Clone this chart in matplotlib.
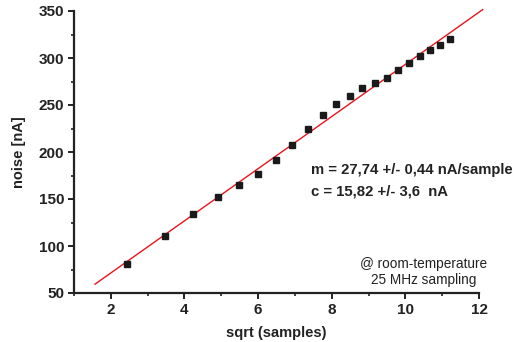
import numpy as np
import matplotlib
matplotlib.use("Agg")
import matplotlib.pyplot as plt
from matplotlib.ticker import MultipleLocator

# measured noise vs sqrt of number of samples
sqrt_samples = [2.45, 3.46, 4.24, 4.90, 5.48, 6.00, 6.48, 6.93, 7.35, 7.75, 8.12,
                8.49, 8.83, 9.17, 9.49, 9.80, 10.10, 10.39, 10.68, 10.95, 11.22]
noise = [81, 111, 134, 152, 165, 177, 191, 207, 224, 239, 251,
         260, 268, 273, 279, 287, 295, 302, 309, 314, 320]

# linear fit result
slope = 27.74
offset = 15.82
fit_range = [1.57, 12.1]

plt.rcParams['font.family'] = ['Liberation Sans', 'DejaVu Sans']

fig = plt.figure(figsize=(5.17, 3.42), dpi=100)
ax = fig.add_axes([74 / 517, 49 / 342, 405 / 517, 282 / 342])

fit_x = np.array(fit_range)
ax.plot(fit_x, slope * fit_x + offset, color='#e8141c', lw=1.0, clip_on=False, zorder=2)
ax.plot(sqrt_samples, noise, 's', color='#1a1a1a', ms=5, zorder=3)

ax.set_xlim(1, 12)
ax.set_ylim(50, 350)
ax.xaxis.set_major_locator(MultipleLocator(2))
ax.xaxis.set_minor_locator(MultipleLocator(1))
ax.yaxis.set_major_locator(MultipleLocator(50))
ax.yaxis.set_minor_locator(MultipleLocator(25))

for side in ['top', 'right']:
    ax.spines[side].set_visible(False)
for side in ['left', 'bottom']:
    ax.spines[side].set_linewidth(1.6)
    ax.spines[side].set_color('#222222')

ax.tick_params(which='major', direction='out', length=4, width=1.4, colors='#222222',
               labelsize=11, pad=3)
ax.tick_params(which='minor', direction='out', length=2.5, width=1.2, colors='#222222')
for lab in ax.get_xticklabels() + ax.get_yticklabels():
    lab.set_fontweight('bold')

ax.set_xlabel('sqrt (samples)', fontsize=10.5, fontweight='bold', color='#222222', labelpad=7)
ax.set_ylabel('noise [nA]', fontsize=10.5, fontweight='bold', color='#222222', labelpad=9)

ax.text(311 / 517, 1 - 170 / 342, 'm = 27,74 +/- 0,44 nA/sample', transform=fig.transFigure,
        fontsize=10.7, fontweight='bold', color='#222222', va='center')
ax.text(311 / 517, 1 - 191 / 342, 'c = 15,82 +/- 3,6  nA', transform=fig.transFigure,
        fontsize=10.7, fontweight='bold', color='#222222', va='center')
ax.text(424 / 517, 1 - 272 / 342, '@ room-temperature\n25 MHz sampling', transform=fig.transFigure,
        fontsize=9.8, color='#222222', ha='center', va='center', linespacing=1.25)

fig.savefig('out.png', dpi=100)
